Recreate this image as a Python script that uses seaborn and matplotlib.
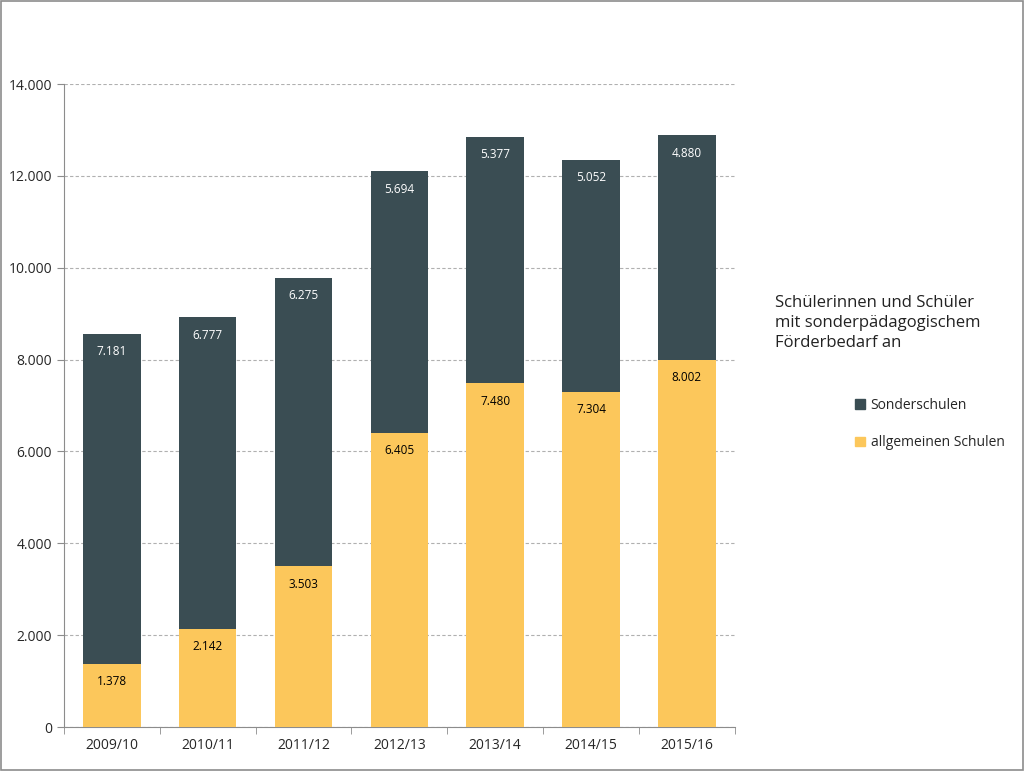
import pandas as pd
import matplotlib.pyplot as plt
import seaborn as sns
from matplotlib.patches import Patch
from matplotlib.ticker import FuncFormatter, FixedLocator

# Daten
jahre = ["2009/10", "2010/11", "2011/12", "2012/13", "2013/14", "2014/15", "2015/16"]
sonderschulen = [7181, 6777, 6275, 5694, 5377, 5052, 4880]
allgemeine = [1378, 2142, 3503, 6405, 7480, 7304, 8002]

DARK = "#3a4d53"
YELLOW = "#fcc75b"

df = pd.DataFrame({"Jahr": jahre, "Sonderschulen": sonderschulen, "allgemeinen Schulen": allgemeine})
df["Gesamt"] = df["Sonderschulen"] + df["allgemeinen Schulen"]

sns.set_style("white")
plt.rcParams["font.family"] = ["Open Sans", "DejaVu Sans"]

fig = plt.figure(figsize=(10.24, 7.71), dpi=100)
ax = fig.add_axes([0.0625, 0.057, 0.655, 0.834])

# stacked bars: total (dark) first, then yellow base on top
sns.barplot(data=df, x="Jahr", y="Gesamt", color=DARK, width=0.6, saturation=1,
            linewidth=0, ax=ax, zorder=3)
sns.barplot(data=df, x="Jahr", y="allgemeinen Schulen", color=YELLOW, width=0.6, saturation=1,
            linewidth=0, ax=ax, zorder=3)

def de_fmt(v):
    return f"{int(v):,}".replace(",", ".")

for i, row in df.iterrows():
    ax.text(i, row["Gesamt"] - 250, de_fmt(row["Sonderschulen"]), ha="center", va="top",
            color="white", fontsize=8.5, zorder=4)
    ax.text(i, row["allgemeinen Schulen"] - 250, de_fmt(row["allgemeinen Schulen"]), ha="center", va="top",
            color="black", fontsize=8.5, zorder=4)

ax.set_xlim(-0.5, 6.5)
ax.set_ylim(0, 14000)
ax.set_yticks(range(0, 14001, 2000))
ax.yaxis.set_major_formatter(FuncFormatter(lambda v, p: de_fmt(v)))
ax.grid(axis="y", linestyle=(0, (3, 2)), color="#b0b0b0", linewidth=0.8, zorder=0)
ax.set_xlabel("")
ax.set_ylabel("")

for s in ["top", "right"]:
    ax.spines[s].set_visible(False)
for s in ["left", "bottom"]:
    ax.spines[s].set_color("#8c8c8c")

ax.tick_params(axis="y", length=5, color="#8c8c8c", labelsize=10, left=True)
ax.tick_params(axis="x", which="major", length=0, labelsize=10, pad=8)
ax.xaxis.set_minor_locator(FixedLocator([i + 0.5 for i in range(-1, 7)]))
ax.tick_params(axis="x", which="minor", length=5, color="#8c8c8c", bottom=True)

# legend with title text
fig.text(0.757, 0.618, "Schülerinnen und Schüler\nmit sonderpädagogischem\nFörderbedarf an",
         fontsize=12, va="top", ha="left", linespacing=1.35, color="#222222")
handles = [Patch(color=DARK, label="Sonderschulen"), Patch(color=YELLOW, label="allgemeinen Schulen")]
fig.legend(handles=handles, loc="upper left", bbox_to_anchor=(0.823, 0.5), frameon=False,
           fontsize=10, handlelength=0.7, handleheight=0.7, handletextpad=0.4, labelspacing=1.6)

# outer border
fig.patches.append(plt.Rectangle((0.001, 0.001), 0.998, 0.998, transform=fig.transFigure,
                                 fill=False, edgecolor="#8c8c8c", linewidth=1.2))

fig.savefig("out.png", dpi=100)
